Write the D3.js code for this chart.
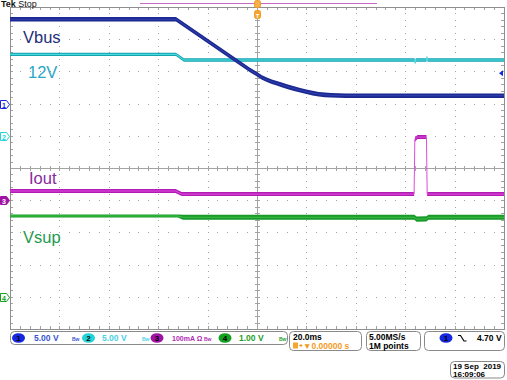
<!DOCTYPE html>
<html>
<head>
<meta charset="utf-8">
<script src="https://cdn.jsdelivr.net/npm/d3@7"></script>
<style>
    body { margin: 0; background: #fff; }
    text { font-family: "Liberation Sans", Arial, sans-serif; }
</style>
</head>
<body>
<div id="scope-area"></div>
<script>

// Trace data, time in ms (trigger at 0), values in channel units
let vbusTime  = [-100, -32.8, -3, 0, 2, 4, 6, 8, 10, 12.5, 15, 17.5, 20, 22.5, 25, 27.5, 30, 33, 36, 100];
let vbusVolts = [13.1, 13.1, 5.25, 4.55, 4.05, 3.7, 3.4, 3.15, 2.9, 2.6, 2.33, 2.08, 1.84, 1.63, 1.46, 1.35, 1.29, 1.25, 1.23, 1.22];

let v12Time  = [-100, -32.8, -29.6, 63.8, 64.0, 64.3, 68.6, 68.8, 69.1, 100];
let v12Volts = [12.65, 12.65, 11.77, 11.77, 11.35, 11.77, 11.77, 12.15, 11.77, 11.77];

let ioutTime = [-100, -33, -30.5, 63.6, 63.9, 65, 68.6, 68.9, 100];
let ioutMilliamps = [28.6, 28.6, 19, 19, 188, 196, 196, 19, 19];

let vsupTime  = [-100, -32, -30, 63.7, 64.6, 68.6, 69.4, 100];
let vsupVolts = [2.51, 2.51, 2.47, 2.47, 2.41, 2.42, 2.47, 2.47];

// Channel settings
let channelNames   = ["Vbus", "12V", "Iout", "Vsup"];
let channelPerDiv  = [5, 5, 100, 1];          // units per division
let channelOffset  = [2, 1, -1, -4];          // ground marker, divisions above centre
let channelReadout = ["5.00 V", "5.00 V", "100mA \u03a9", "1.00 V"];

let timePerDiv = "20.0ms";
let triggerPos = "0.00000 s";
let sampleRate = "5.00MS/s";
let recordLen  = "1M points";
let triggerLevel = 4.70;
let triggerText  = "4.70 V";
let dateText = "19 Sep  2019";
let timeText = "16:09:06";

// SVG drawing area
let width = 507, height = 380;
let gLeft = 10, gRight = 504, gTop = 7, gBottom = 329;

let svg = d3.select("#scope-area").append("svg")
    .attr("width", width)
    .attr("height", height);

let xScale = d3.scaleLinear().domain([-100, 100]).range([gLeft, gRight]);
let divScale = d3.scaleLinear().domain([-5, 5]).range([gBottom, gTop]);

function channelScale(i) {
    let s = channelPerDiv[i], o = channelOffset[i];
    return d3.scaleLinear()
        .domain([(-5 - o) * s, (5 - o) * s])
        .range([gBottom, gTop]);
}

let colors = [
    {band: "#1b2990", core: "#2f40b4", text: "#1f2f7a", oval: "#1428e0", read: "#3a55d0"},
    {band: "#14a4b0", core: "#58e2e6", text: "#2aa6c4", oval: "#22d4d8", read: "#4cd2e4"},
    {band: "#b21cb4", core: "#e04ee0", text: "#8a2a9e", oval: "#a012a4", read: "#b02ab4"},
    {band: "#19992a", core: "#3ec446", text: "#1e9a4c", oval: "#12a020", read: "#1ea028"}
];

// Graticule
let grid = svg.append("g").attr("class", "graticule");
let gridColor = "#a3a3a3";

let majorT = d3.range(-100, 101, 20);
let minorT = d3.range(-100, 100.1, 4);
let majorD = d3.range(-5, 6, 1);
let minorD = d3.range(-5, 5.01, 0.2);

majorT.filter(t => t !== -100 && t !== 0 && t !== 100).forEach(t => {
    grid.selectAll(null).data(minorD).enter().append("rect")
        .attr("x", Math.round(xScale(t)))
        .attr("y", d => Math.round(divScale(d)))
        .attr("width", 1).attr("height", 1)
        .attr("fill", gridColor);
});
majorD.filter(d => d !== -5 && d !== 0 && d !== 5).forEach(dv => {
    grid.selectAll(null).data(minorT).enter().append("rect")
        .attr("x", d => Math.round(xScale(d)))
        .attr("y", Math.round(divScale(dv)))
        .attr("width", 1).attr("height", 1)
        .attr("fill", gridColor);
});

// centre lines with ticks
grid.append("line")
    .attr("x1", gLeft).attr("x2", gRight)
    .attr("y1", Math.round(divScale(0)) + 0.5).attr("y2", Math.round(divScale(0)) + 0.5)
    .attr("stroke", gridColor);
grid.append("line")
    .attr("x1", Math.round(xScale(0)) + 0.5).attr("x2", Math.round(xScale(0)) + 0.5)
    .attr("y1", gTop).attr("y2", gBottom)
    .attr("stroke", gridColor);
grid.selectAll(".tick-x").data(minorT).enter().append("line")
    .attr("x1", d => Math.round(xScale(d)) + 0.5).attr("x2", d => Math.round(xScale(d)) + 0.5)
    .attr("y1", Math.round(divScale(0)) - 2).attr("y2", Math.round(divScale(0)) + 3)
    .attr("stroke", gridColor);
grid.selectAll(".tick-y").data(minorD).enter().append("line")
    .attr("y1", d => Math.round(divScale(d)) + 0.5).attr("y2", d => Math.round(divScale(d)) + 0.5)
    .attr("x1", Math.round(xScale(0)) - 2).attr("x2", Math.round(xScale(0)) + 3)
    .attr("stroke", gridColor);

// border ticks
grid.selectAll(".tick-l").data(minorD).enter().append("line")
    .attr("y1", d => Math.round(divScale(d)) + 0.5).attr("y2", d => Math.round(divScale(d)) + 0.5)
    .attr("x1", gLeft).attr("x2", gLeft + 3)
    .attr("stroke", gridColor);
grid.selectAll(".tick-r").data(minorD).enter().append("line")
    .attr("y1", d => Math.round(divScale(d)) + 0.5).attr("y2", d => Math.round(divScale(d)) + 0.5)
    .attr("x1", gRight - 3).attr("x2", gRight)
    .attr("stroke", gridColor);
grid.selectAll(".tick-t").data(minorT).enter().append("line")
    .attr("x1", d => Math.round(xScale(d)) + 0.5).attr("x2", d => Math.round(xScale(d)) + 0.5)
    .attr("y1", gTop).attr("y2", gTop + 3)
    .attr("stroke", gridColor);
grid.selectAll(".tick-b").data(minorT).enter().append("line")
    .attr("x1", d => Math.round(xScale(d)) + 0.5).attr("x2", d => Math.round(xScale(d)) + 0.5)
    .attr("y1", gBottom - 3).attr("y2", gBottom)
    .attr("stroke", gridColor);

grid.append("rect")
    .attr("x", gLeft + 0.5).attr("y", gTop + 0.5)
    .attr("width", gRight - gLeft).attr("height", gBottom - gTop)
    .attr("fill", "none")
    .attr("stroke", "#8e8e8e");

// Traces
let traces = [
    d3.zip(vbusTime, vbusVolts),
    d3.zip(v12Time, v12Volts),
    d3.zip(ioutTime, ioutMilliamps),
    d3.zip(vsupTime, vsupVolts)
];
let halfWidth = [
    t => 2.3,
    t => 1.7,
    t => 2.0,
    t => (t < -31 ? 1.6 : 2.6)
];

let traceGroup = svg.append("g").attr("class", "traces");
[3, 2, 1, 0].forEach(i => {
    let sc = channelScale(i);
    let band = d3.area()
        .x(d => xScale(d[0]))
        .y0(d => sc(d[1]) + halfWidth[i](d[0]))
        .y1(d => sc(d[1]) - halfWidth[i](d[0]))
        .curve(d3.curveLinear);
    let line = d3.line()
        .x(d => xScale(d[0]))
        .y(d => sc(d[1]))
        .curve(d3.curveLinear);

    traceGroup.append("path")
        .datum(traces[i])
        .attr("d", band)
        .attr("fill", colors[i].band);
    traceGroup.append("path")
        .datum(traces[i])
        .attr("d", line)
        .attr("fill", "none")
        .attr("stroke", colors[i].core)
        .attr("stroke-width", 1);
});

// Trace labels
let labelPos = [[23, 43], [28, 78], [29, 184], [23, 243]];
svg.selectAll(".trace-label").data(channelNames).enter().append("text")
    .attr("class", "trace-label")
    .attr("x", (d, i) => labelPos[i][0])
    .attr("y", (d, i) => labelPos[i][1])
    .attr("font-size", 16.5)
    .attr("fill", (d, i) => colors[i].text)
    .text(d => d);

// Ground markers on the left edge
channelNames.forEach((n, i) => {
    let y = Math.round(channelScale(i)(0)) + 0.5;
    let filled = (i === 2);
    let g = svg.append("g");
    g.append("path")
        .attr("d", "M0.5," + (y - 4) + "h6l3,4l-3,4h-6z")
        .attr("fill", filled ? colors[i].oval : "#fff")
        .attr("stroke", colors[i].oval)
        .attr("stroke-width", 1);
    g.append("text")
        .attr("x", 4).attr("y", y + 3)
        .attr("text-anchor", "middle")
        .attr("font-size", 7).attr("font-weight", "bold")
        .attr("fill", filled ? "#fff" : colors[i].oval)
        .text(i + 1);
});

// Trigger level arrow on the right edge
let trigY = channelScale(0)(triggerLevel);
svg.append("path")
    .attr("d", "M499," + trigY + "l4,-3v6z")
    .attr("fill", colors[0].oval);

// Header
let header = svg.append("text").attr("x", 1).attr("y", 7).attr("font-size", 9).attr("fill", "#111");
header.append("tspan").attr("font-weight", "bold").text("Tek");
header.append("tspan").text(" Stop");

svg.append("line")
    .attr("x1", 140).attr("x2", 377)
    .attr("y1", 3.5).attr("y2", 3.5)
    .attr("stroke", "#c46ac4");

// trigger position markers
let tx = Math.round(xScale(0));
svg.append("rect")
    .attr("x", tx - 2.5).attr("y", 0.5)
    .attr("width", 6).attr("height", 7).attr("rx", 2)
    .attr("fill", "#f7b04a").attr("stroke", "#ee9a20");
svg.append("rect")
    .attr("x", tx - 2.5).attr("y", 10.5)
    .attr("width", 6).attr("height", 8).attr("rx", 2)
    .attr("fill", "#f5a42e").attr("stroke", "#ee9a20");
svg.append("text")
    .attr("x", tx + 0.5).attr("y", 17.5)
    .attr("text-anchor", "middle")
    .attr("font-size", 6).attr("font-weight", "bold")
    .attr("fill", "#fff")
    .text("T");

// Readout boxes
let readout = svg.append("g").attr("class", "readout");

function box(x, y, w, h) {
    readout.append("rect")
        .attr("x", x + 0.5).attr("y", y + 0.5)
        .attr("width", w).attr("height", h).attr("rx", 4)
        .attr("fill", "#fff")
        .attr("stroke", "#8a8a8a");
}

box(10, 331, 277, 13);
let ovalX = [18.5, 88.5, 157, 225];
let readX = [34, 102, 172, 239];
let readSize = [8.5, 8.5, 7, 8.5];
let bwX = [72, 142, 204, 279];
channelReadout.forEach((r, i) => {
    readout.append("ellipse")
        .attr("cx", ovalX[i]).attr("cy", 338)
        .attr("rx", 6.5).attr("ry", 4.8)
        .attr("fill", colors[i].oval);
    readout.append("text")
        .attr("x", ovalX[i]).attr("y", 341)
        .attr("text-anchor", "middle")
        .attr("font-size", 8).attr("font-weight", "bold")
        .attr("fill", "#000")
        .text(i + 1);
    readout.append("text")
        .attr("x", readX[i]).attr("y", 341)
        .attr("font-size", readSize[i]).attr("font-weight", "bold")
        .attr("fill", colors[i].read)
        .text(r);
    readout.append("text")
        .attr("x", bwX[i]).attr("y", 340.5)
        .attr("font-size", 5).attr("font-weight", "bold")
        .attr("fill", colors[i].read)
        .text("Bw");
});

box(289, 331, 72, 19);
readout.append("text")
    .attr("x", 293).attr("y", 340)
    .attr("font-size", 8.5).attr("font-weight", "bold")
    .text(timePerDiv);
readout.append("rect")
    .attr("x", 293).attr("y", 342.5)
    .attr("width", 5).attr("height", 6)
    .attr("fill", "#f5a42e");
readout.append("path")
    .attr("d", "M299,345.5h3m-1.5,-1.5l1.5,1.5l-1.5,1.5")
    .attr("fill", "none")
    .attr("stroke", "#f39a1e");
readout.append("text")
    .attr("x", 303).attr("y", 349)
    .attr("font-size", 8.5).attr("font-weight", "bold")
    .attr("fill", "#f39a1e")
    .text("\u25bc" + triggerPos);

box(366, 331, 54, 19);
readout.append("text")
    .attr("x", 369).attr("y", 340)
    .attr("font-size", 8.5).attr("font-weight", "bold")
    .text(sampleRate);
readout.append("text")
    .attr("x", 369).attr("y", 349)
    .attr("font-size", 8.5).attr("font-weight", "bold")
    .text(recordLen);

box(424, 331, 80, 19);
readout.append("ellipse")
    .attr("cx", 446).attr("cy", 338)
    .attr("rx", 6.5).attr("ry", 4.8)
    .attr("fill", colors[0].oval);
readout.append("text")
    .attr("x", 446).attr("y", 341)
    .attr("text-anchor", "middle")
    .attr("font-size", 8).attr("font-weight", "bold")
    .text("1");
readout.append("path")
    .attr("d", "M458,335.5h2.5l3.5,5.5h2.5")
    .attr("fill", "none")
    .attr("stroke", "#000")
    .attr("stroke-width", 1.2);
readout.append("text")
    .attr("x", 477).attr("y", 341)
    .attr("font-size", 8.5).attr("font-weight", "bold")
    .text(triggerText);

box(450, 361, 54, 16.5);
readout.append("text")
    .attr("x", 453).attr("y", 369)
    .attr("font-size", 8).attr("font-weight", "bold")
    .style("white-space", "pre")
    .text(dateText);
readout.append("text")
    .attr("x", 453).attr("y", 377)
    .attr("font-size", 8).attr("font-weight", "bold")
    .text(timeText);

</script>
</body>
</html>
